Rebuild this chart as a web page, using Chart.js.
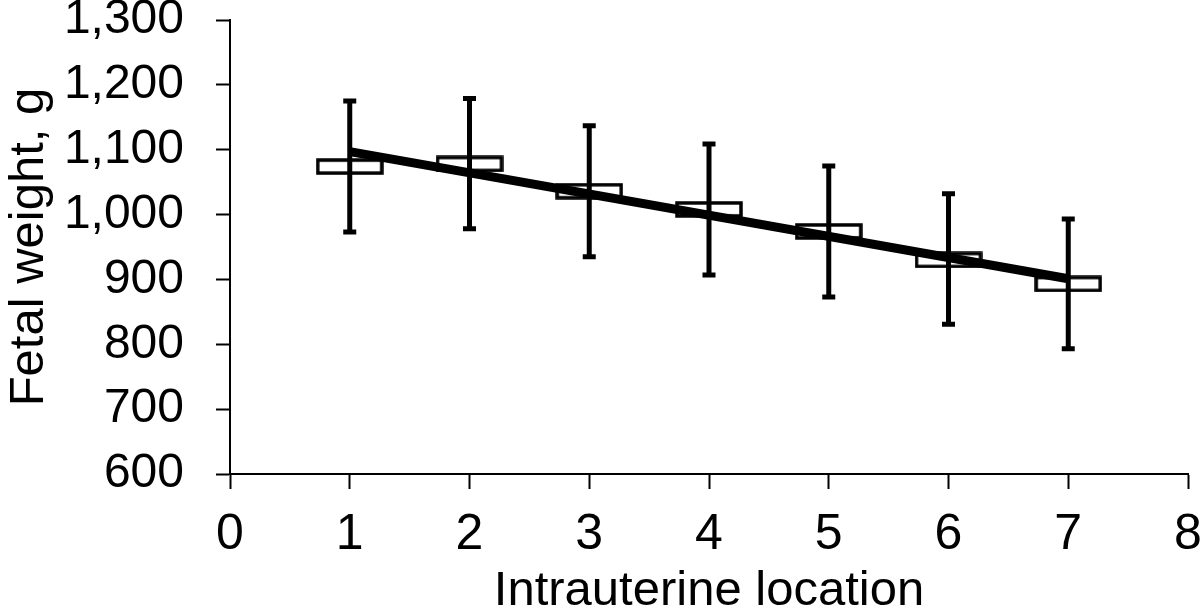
<!DOCTYPE html>
<html>
<head>
<meta charset="utf-8">
<script src="https://cdn.jsdelivr.net/npm/chart.js@4/dist/chart.umd.min.js"></script>
<style>
  html, body { margin: 0; padding: 0; background: #fff; }
  canvas { display: block; }
</style>
</head>
<body>
<canvas id="myChart" width="1200" height="610"></canvas>
<script>
// values
const locations = [1, 2, 3, 4, 5, 6, 7]
const meanWeight = [1074, 1078, 1036, 1008, 974, 930, 893]
const upperWeight = [1175, 1179, 1137, 1109, 1075, 1032, 993]
const lowerWeight = [973, 978, 935, 907, 873, 831, 793]
const trendX = [1, 7]
const trendY = [1097, 901]
const xTicks = [0, 1, 2, 3, 4, 5, 6, 7, 8]
const yTicks = [600, 700, 800, 900, 1000, 1100, 1200, 1300]

const FONT = '"Liberation Sans", Arial, sans-serif'

// wide open box used as the marker
const box = document.createElement('canvas')
box.width = 68
box.height = 17
{
	const c = box.getContext('2d')
	c.fillStyle = '#fff'
	c.strokeStyle = '#000'
	c.lineWidth = 3.5
	c.fillRect(2, 2, 64, 13)
	c.strokeRect(2, 2, 64, 13)
}

const errorBars = {
	id: 'errorBars',
	afterDatasetsDraw(chart) {
		const ctx = chart.ctx
		const x = chart.scales.x, y = chart.scales.y
		ctx.save()
		ctx.strokeStyle = '#000'
		ctx.lineCap = 'butt'
		locations.forEach((loc, i) => {
			const px = x.getPixelForValue(loc)
			const top = y.getPixelForValue(upperWeight[i])
			const bot = y.getPixelForValue(lowerWeight[i])
			ctx.lineWidth = 5
			ctx.beginPath()
			ctx.moveTo(px, top)
			ctx.lineTo(px, bot)
			ctx.stroke()
			ctx.beginPath()
			ctx.moveTo(px - 6.5, top)
			ctx.lineTo(px + 6.5, top)
			ctx.moveTo(px - 6.5, bot)
			ctx.lineTo(px + 6.5, bot)
			ctx.stroke()
		})
		ctx.restore()
	}
}

const data = {
	datasets: [
		{
			label: 'Trend',
			data: trendX.map((v, i) => ({ x: v, y: trendY[i] })),
			showLine: true,
			borderColor: '#000',
			borderWidth: 9,
			pointRadius: 0,
			order: 1
		},
		{
			label: 'Fetal weight',
			data: locations.map((v, i) => ({ x: v, y: meanWeight[i] })),
			pointStyle: box,
			showLine: false,
			order: 2
		}
	]
}

new Chart(document.getElementById('myChart'), {
	type: 'scatter',
	data,
	plugins: [errorBars],
	options: {
		responsive: false,
		animation: false,
		layout: { padding: { left: 0, right: 12, top: 20, bottom: 0 } },
		plugins: {
			legend: { display: false },
			tooltip: { enabled: false }
		},
		scales: {
			x: {
				type: 'linear',
				min: 0,
				max: 8,
				afterBuildTicks: s => { s.ticks = xTicks.map(v => ({ value: v })) },
				afterFit: s => { s.height = 136; s.paddingLeft = 0; s.paddingRight = 0 },
				border: { color: '#000', width: 2 },
				grid: { drawOnChartArea: false, drawTicks: true, tickLength: 15, tickColor: '#000', tickWidth: 2 },
				ticks: { color: '#000', font: { family: FONT, size: 50 }, padding: 16 },
				title: {
					display: true,
					text: 'Intrauterine location',
					color: '#000',
					font: { family: FONT, size: 49, lineHeight: 0.75 },
					padding: { top: 0, bottom: 0 }
				}
			},
			y: {
				type: 'linear',
				min: 600,
				max: 1300,
				afterBuildTicks: s => { s.ticks = yTicks.map(v => ({ value: v })) },
				afterFit: s => { s.width = 230; s.paddingTop = 0; s.paddingBottom = 0 },
				border: { color: '#000', width: 2 },
				grid: { drawOnChartArea: false, drawTicks: true, tickLength: 14, tickColor: '#000', tickWidth: 2 },
				ticks: {
					color: '#000',
					font: { family: FONT, size: 48 },
					padding: 32,
					callback: v => v.toLocaleString('en-US')
				},
				title: {
					display: true,
					text: 'Fetal weight, g',
					color: '#000',
					font: { family: FONT, size: 49 },
					padding: { top: 0, bottom: 0 }
				}
			}
		}
	}
})
</script>
</body>
</html>
